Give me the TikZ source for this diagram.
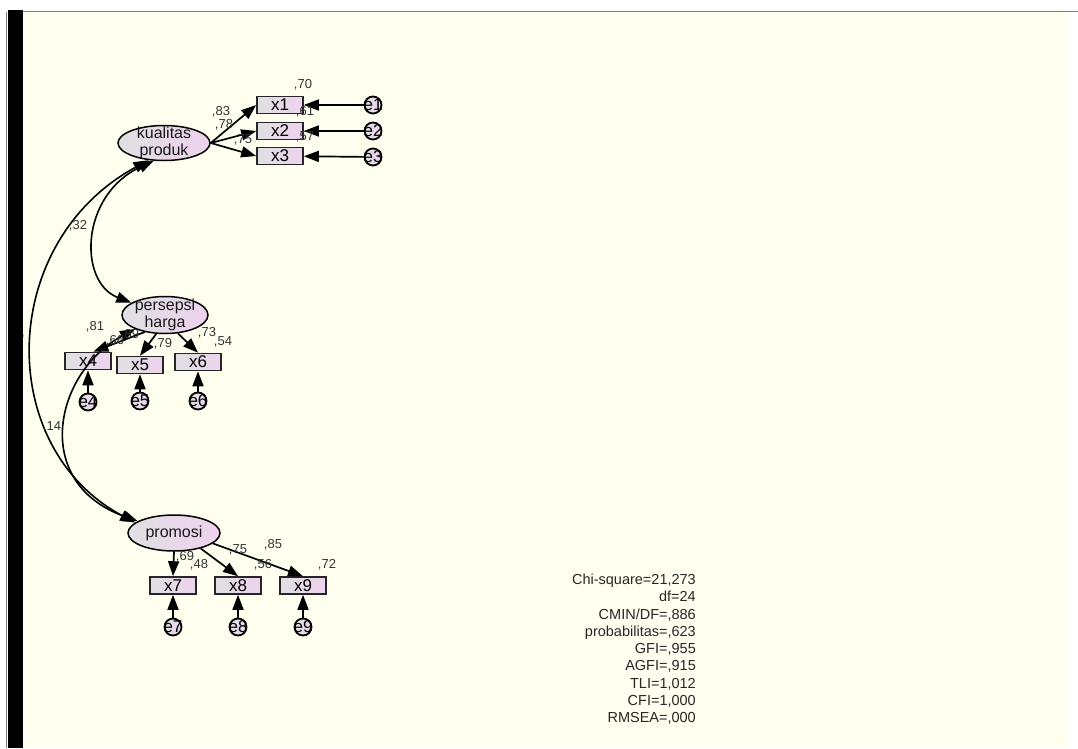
\documentclass[tikz,border=0pt]{standalone}
\usepackage{fontspec}
\setmainfont{Liberation Sans}
\usetikzlibrary{arrows.meta,shapes.geometric}
\definecolor{canvas}{RGB}{255,255,240}
\definecolor{framegray}{RGB}{128,128,128}
\definecolor{estgray}{RGB}{52,52,52}
\definecolor{leftfill}{RGB}{224,224,226}
\definecolor{rightfill}{RGB}{238,210,238}

\begin{document}
\begin{tikzpicture}[x=1pt,y=-1pt,
 latent/.style={ellipse, draw=black, line width=1.5pt, left color=leftfill,
  right color=rightfill, minimum width=92pt, minimum height=36pt, inner sep=0pt},
 latxt/.style={align=center, inner sep=0pt, text=black!90,
  font=\fontsize{16}{17}\selectfont},
 obs/.style={rectangle, draw=black!85, line width=1.6pt, left color=leftfill,
  right color=rightfill, minimum width=46pt, minimum height=17pt, inner sep=0pt,
  font=\fontsize{17}{17}\selectfont},
 err/.style={circle, draw=black, line width=1.8pt, left color=leftfill,
  right color=rightfill, minimum size=17pt, inner sep=0pt},
 errtxt/.style={inner sep=0pt, font=\fontsize{17}{17}\selectfont},
 load/.style={line width=1.7pt, -{Triangle[length=15pt,width=11pt]}},
 cov/.style={line width=1.6pt,
  {Triangle[length=15pt,width=11pt]}-{Triangle[length=15pt,width=11pt]}},
 est/.style={inner sep=0pt, text=estgray, font=\fontsize{13}{13}\selectfont}]
\useasboundingbox (0,0) rectangle (1078,748);
% window: white page, ivory canvas, black bar on the left
\fill[white] (0,0) rectangle (1078,748);
\fill[canvas] (23,12) rectangle (1067,748);
\draw[framegray, line width=1.5pt] (8,11.5) -- (1078,11.5);
\draw[framegray, line width=1pt] (6.5,12) -- (6.5,748);
% hidden covariance label, mostly under the bar
\node[est] (lhid) at (23,337) {,};
\fill[black] (8,10) rectangle (23,748);
% latent variables
\node[latent, minimum width=92pt, minimum height=35pt] (kp) at (164,143) {};
\node[latxt] (kptxt) at (kp.center) {kualitas\\produk};
\node[latent, minimum width=86pt, minimum height=37pt] (ph) at (165,315) {};
\node[latxt] (phtxt) at (ph.center) {persepsi\\harga};
\node[latent] (pr) at (174,533) {};
\node[latxt] (prtxt) at (pr.center) {promosi};
% indicators and their error terms
\foreach \n/\x/\y/\ex/\ey in {1/280/105/373/105, 2/280/131/373/131,
  3/280/156/373/157, 4/88/361/88/402, 5/140/365/140/401, 6/198/362/198/401,
  7/173/585.5/173/627, 8/238/585.5/238/627, 9/303/585.5/303/627}
{
 \node[obs] (x\n) at (\x,\y) {x\n};
 \node[err] (e\n) at (\ex,\ey) {};
 \node[errtxt] (et\n) at (e\n.center) {e\n};
 \draw[load] (e\n) -- (x\n);
}
% loadings
\draw[load] (kp.east) -- (x1.west);
\draw[load] (kp.east) -- (x2.west);
\draw[load] (kp.east) -- (x3.west);
\draw[load] (ph.220) -- (x4.60);
\draw[load] (ph.245) -- (x5.north);
\draw[load] (ph.305) -- (x6.north);
\draw[load] (pr.south) -- (x7.north);
\draw[load] (pr.330) -- (x8.north);
\draw[load] (pr.345) -- (x9.north);
% covariances
\draw[cov] (kp.240) .. controls (80,195) and (78,282) .. (ph.160);
\draw[cov] (kp.228) .. controls (-2,242) and (-6,447) .. (pr.165);
\draw[cov] (ph.205) .. controls (55,372) and (30,482) .. (pr.162);
% estimates
\foreach \nm/\px/\py/\txt in {a/303/85/{,70}, b/221/112/{,83}, c/224/125/{,78},
  d/305/112/{,61}, f/305/137/{,57}, g/243/140/{,75},
  h/95/327/{,81}, i/115/341/{,66}, j/130/335/{,89}, k/163/344/{,79},
  m/207/333/{,73}, n/223/342/{,54},
  o/185/557/{,69}, p/199/565/{,48}, q/238/550/{,75}, r/263/565/{,56},
  s/273/545/{,85}, t/327/565/{,72},
  u/78/226/{,32}, v/52/427/{,14}}
 \node[est] (l\nm) at (\px,\py) {\txt};
% fit indices
\node[anchor=north east, align=right, inner sep=0pt, text=black!85,
 font=\fontsize{14.5}{17.25}\selectfont] (fit) at (696,574)
 {Chi-square=21,273\\df=24\\CMIN/DF=,886\\probabilitas=,623\\GFI=,955\\
  AGFI=,915\\TLI=1,012\\CFI=1,000\\RMSEA=,000};
\end{tikzpicture}
\end{document}
